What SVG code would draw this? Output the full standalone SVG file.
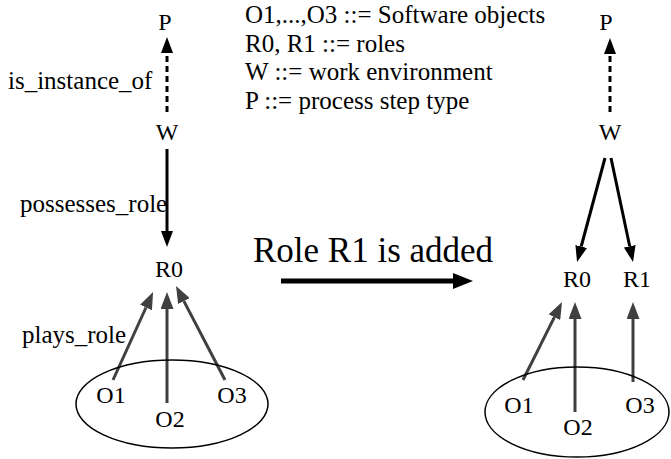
<svg xmlns="http://www.w3.org/2000/svg" width="671" height="459" viewBox="0 0 671 459">
<style>
text{font-family:"Liberation Serif","Times New Roman",serif;fill:#000}
.n{font-size:24px;text-anchor:middle}
.l{font-size:25px}
.big{font-size:35px}
.blk{stroke:#000;stroke-width:3;fill:none}
.dash{stroke-dasharray:6 4}
.gry{stroke:#404040;stroke-width:3;fill:none}
</style>
<defs>
<marker id="ab" markerUnits="userSpaceOnUse" markerWidth="16" markerHeight="12" refX="0" refY="6" orient="auto" viewBox="0 0 16 12"><path d="M0,0 L16,6 L0,12 z" fill="#000"/></marker>
<marker id="ag" markerUnits="userSpaceOnUse" markerWidth="17" markerHeight="13" refX="0" refY="6.5" orient="auto" viewBox="0 0 17 13"><path d="M0,0 L17,6.5 L0,13 z" fill="#404040"/></marker>
<marker id="abig" markerUnits="userSpaceOnUse" markerWidth="20" markerHeight="16" refX="0" refY="8" orient="auto" viewBox="0 0 20 16"><path d="M0,0 L20,8 L0,16 z" fill="#000"/></marker>
</defs>
<g id="legend">
<text class="l" x="245" y="23">O1,...,O3 ::= Software objects</text>
<text class="l" x="245" y="52">R0, R1 ::= roles</text>
<text class="l" x="245" y="80">W ::= work environment</text>
<text class="l" x="245" y="109">P ::= process step type</text>
</g>
<g id="connectors">
<line class="blk dash" x1="167" y1="112" x2="167" y2="53" marker-end="url(#ab)"/>
<line class="blk" x1="167" y1="149" x2="167" y2="231" marker-end="url(#ab)"/>
<line class="gry" x1="113" y1="380" x2="146" y2="307.5" marker-end="url(#ag)"/>
<line class="gry" x1="167" y1="403" x2="167" y2="309" marker-end="url(#ag)"/>
<line class="gry" x1="225" y1="380" x2="183.9" y2="301.1" marker-end="url(#ag)"/>
<line stroke="#000" stroke-width="5" x1="281" y1="281" x2="453" y2="281" marker-end="url(#abig)"/>
<line class="blk dash" x1="610" y1="112" x2="610" y2="54" marker-end="url(#ab)"/>
<line class="blk" x1="605" y1="158" x2="581.2" y2="246.5" marker-end="url(#ab)"/>
<line class="blk" x1="611" y1="158" x2="629.7" y2="246.3" marker-end="url(#ab)"/>
<line class="gry" x1="523" y1="380" x2="554.4" y2="317.2" marker-end="url(#ag)"/>
<line class="gry" x1="575" y1="412" x2="575" y2="319" marker-end="url(#ag)"/>
<line class="gry" x1="633" y1="382" x2="633" y2="319" marker-end="url(#ag)"/>
</g>
<g id="labels">
<text class="l" x="8" y="89">is_instance_of</text>
<text class="l" x="20" y="212">possesses_role</text>
<text class="l" x="22" y="343">plays_role</text>
<text class="big" x="253" y="262">Role R1 is added</text>
</g>
<g id="left-P"><text class="n" x="165" y="30">P</text></g>
<g id="left-W"><text class="n" x="167" y="140">W</text></g>
<g id="left-R0"><text class="n" x="169" y="277">R0</text></g>
<g id="left-objects">
<ellipse cx="172" cy="404" rx="96" ry="44" fill="none" stroke="#000" stroke-width="1.5"/>
<text class="n" x="111" y="403">O1</text>
<text class="n" x="170" y="427">O2</text>
<text class="n" x="232" y="403">O3</text>
</g>
<g id="right-P"><text class="n" x="606" y="30">P</text></g>
<g id="right-W"><text class="n" x="610" y="140">W</text></g>
<g id="right-R0"><text class="n" x="577" y="287">R0</text></g>
<g id="right-R1"><text class="n" x="637" y="287">R1</text></g>
<g id="right-objects">
<ellipse cx="577" cy="412" rx="92" ry="45" fill="none" stroke="#000" stroke-width="1.5"/>
<text class="n" x="519" y="413">O1</text>
<text class="n" x="578" y="435">O2</text>
<text class="n" x="640" y="413">O3</text>
</g>
</svg>
